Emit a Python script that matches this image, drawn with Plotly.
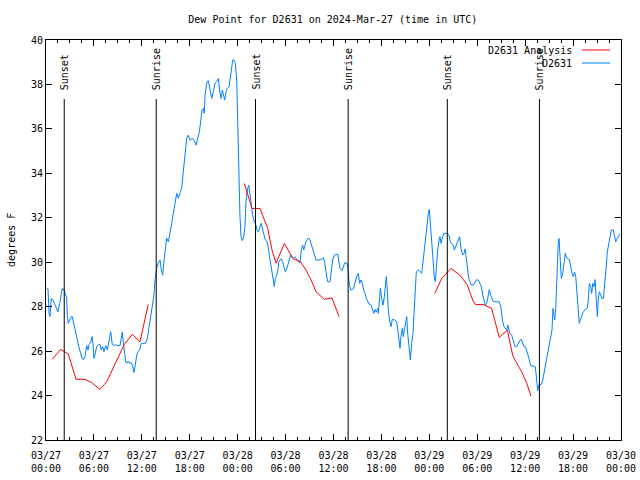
import pandas as pd
import plotly.graph_objects as go

BASE = pd.Timestamp("2024-03-27 00:00")

# Observed dew point (D2631): hours since 2024-03-27 00:00 UTC, degrees F
obs_hours = [0.1, 0.25, 0.38, 0.5, 0.66, 0.88, 1.13, 1.34, 1.5, 1.72, 1.97, 2.04, 2.25, 2.42, 2.59, 2.67, 2.79, 2.97,
             3.17, 3.29, 3.42, 3.59, 3.79, 4.01, 4.22, 4.42, 4.55, 4.76, 4.92, 5.1, 5.26, 5.38, 5.6, 5.76, 5.89,
             6.01, 6.17, 6.35, 6.55, 6.76, 6.92, 7.1, 7.26, 7.48, 7.68, 7.89, 8.1, 8.3, 8.52, 8.73, 8.93, 9.27,
             9.43, 9.55, 9.68, 9.86, 9.98, 10.1, 10.27, 10.43, 10.61, 10.81, 11.02, 11.18, 11.36, 11.52, 11.73,
             11.93, 12.18, 12.48, 12.68, 12.9, 13.11, 13.31, 13.52, 13.65, 13.85, 14.05, 14.28, 14.44, 14.61,
             14.74, 14.9, 15.11, 15.32, 15.53, 15.74, 15.94, 16.15, 16.37, 16.57, 16.78, 16.99, 17.19, 17.41,
             17.62, 17.82, 18.03, 18.37, 18.57, 18.78, 19.0, 19.2, 19.37, 19.53, 19.7, 19.82, 19.91, 20.12,
             20.32, 20.54, 20.75, 20.95, 21.16, 21.38, 21.58, 21.79, 21.91, 22.08, 22.2, 22.38, 22.54, 22.7,
             22.92, 23.04, 23.2, 23.38, 23.54, 23.71, 23.88, 24.0, 24.13, 24.29, 24.42, 24.58, 24.76, 24.92,
             25.04, 25.21, 25.38, 25.58, 25.71, 25.88, 26.08, 26.3, 26.42, 26.59, 26.8, 26.96, 27.14, 27.3,
             27.46, 27.64, 27.8, 27.96, 28.14, 28.3, 28.46, 28.59, 28.71, 28.89, 29.05, 29.14, 29.3, 29.46,
             29.64, 29.8, 29.97, 30.14, 30.3, 30.47, 30.64, 30.8, 30.97, 31.14, 31.3, 31.47, 31.64, 31.81,
             31.97, 32.14, 32.27, 32.39, 32.56, 32.77, 32.97, 33.18, 33.4, 33.6, 33.81, 34.15, 34.44, 34.72,
             34.9, 35.06, 35.27, 35.56, 35.73, 35.9, 36.1, 36.53, 36.65, 36.82, 37.07, 37.23, 37.41, 37.66,
             37.82, 37.98, 38.19, 38.48, 38.69, 38.91, 39.11, 39.28, 39.45, 39.61, 39.78, 39.95, 40.11, 40.28,
             40.45, 40.7, 40.86, 41.04, 41.2, 41.36, 41.54, 41.62, 41.79, 41.86, 42.04, 42.2, 42.37, 42.49,
             42.61, 42.74, 42.86, 43.04, 43.2, 43.36, 43.7, 43.92, 44.04, 44.2, 44.33, 44.45, 44.62, 44.74,
             44.87, 45.04, 45.17, 45.29, 45.45, 45.62, 45.79, 45.96, 46.08, 46.21, 46.37, 46.62, 46.83, 47.05,
             47.21, 47.37, 47.55, 47.71, 47.87, 48.0, 48.12, 48.3, 48.46, 48.62, 48.75, 48.87, 49.05, 49.22,
             49.34, 49.47, 49.63, 49.8, 50.18, 50.47, 50.63, 50.8, 51.0, 51.13, 51.3, 51.47, 51.63, 51.8,
             51.97, 52.18, 52.34, 52.47, 52.59, 52.76, 52.93, 53.1, 53.26, 53.51, 53.72, 53.93, 54.18, 54.35,
             54.51, 54.69, 54.85, 55.01, 55.19, 55.35, 55.51, 55.69, 55.86, 56.02, 56.36, 56.76, 56.94, 57.06,
             57.19, 57.35, 57.52, 57.7, 57.82, 57.99, 58.1, 58.31, 58.51, 58.73, 58.94, 59.11, 59.36, 59.52,
             59.69, 59.86, 60.02, 60.19, 60.36, 60.52, 60.7, 61.02, 61.27, 61.36, 61.44, 61.57, 61.69, 61.86,
             62.02, 62.2, 62.36, 62.52, 62.7, 62.86, 63.02, 63.2, 63.36, 63.48, 63.61, 63.7, 63.83, 63.95,
             64.12, 64.24, 64.37, 64.53, 64.7, 64.86, 65.03, 65.2, 65.37, 65.53, 65.7, 65.87, 66.03, 66.2,
             66.33, 66.45, 66.62, 66.78, 66.96, 67.12, 67.28, 67.53, 67.78, 67.91, 68.03, 68.21, 68.33, 68.46,
             68.62, 68.75, 68.87, 69.04, 69.16, 69.29, 69.46, 69.59, 69.79, 69.96, 70.13, 70.29, 70.46, 70.62,
             70.79, 71.04, 71.22, 71.34, 71.54, 71.72, 71.88]
obs_dewpt = [28.85, 28.8, 27.7, 27.55, 28.37, 28.3, 28.07, 27.85, 27.77, 28.15, 28.6, 28.83, 28.75, 28.6, 28.4, 27.6, 27.25, 27.4,
             27.55, 27.55, 27.32, 26.95, 26.65, 26.35, 26.05, 25.82, 25.64, 25.64, 25.82, 26.25, 26.05, 26.3, 26.4, 26.65, 26.35,
             25.67, 25.9, 26.2, 26.3, 26.3, 26.05, 26.2, 25.97, 26.25, 26.05, 26.45, 26.87, 26.3, 26.25, 26.3, 26.25, 26.25,
             26.55, 26.85, 26.4, 25.82, 25.52, 25.45, 25.55, 25.45, 25.5, 25.37, 25.04, 25.37, 25.82, 25.97, 26.05,
             26.35, 26.35, 26.35, 26.55, 27.03, 27.47, 27.92, 28.52, 29.2, 29.72, 29.95, 30.1, 29.65, 29.42,
             29.95, 30.47, 31.08, 30.92, 31.45, 31.75, 32.2, 32.72, 33.1, 32.88, 33.1, 33.33, 34.07, 35.05,
             35.57, 35.72, 35.5, 35.57, 35.47, 35.27, 35.57, 35.87, 36.32, 36.85, 36.92, 36.7, 37.52, 38.05,
             38.17, 37.82, 37.37, 37.67, 38.05, 38.12, 38.27, 37.6, 37.37, 37.75, 37.6, 37.3, 37.67, 37.82,
             37.9, 38.27, 38.8, 39.1, 39.1, 38.95, 38.2, 35.95, 34.0, 32.05, 31.15, 30.97, 31.15, 31.6,
             32.72, 33.25, 33.47, 32.87, 32.5, 32.12, 31.82, 31.67, 31.45, 31.37, 31.6, 31.75, 31.45, 31.22,
             31.0, 30.95, 30.77, 30.32, 29.95, 29.65, 29.2, 28.9, 29.27, 29.42, 29.65, 30.02, 30.1, 30.15,
             30.0, 29.8, 29.57, 29.7, 29.9, 30.17, 30.32, 30.25, 30.17, 30.25, 30.17, 30.1, 30.07, 29.97,
             30.55, 30.77, 30.55, 30.77, 30.92, 31.07, 31.07, 30.85, 30.55, 30.32, 30.1, 30.1, 30.12, 30.2,
             30.0, 29.57, 29.12, 29.12, 29.57, 30.1, 30.32, 30.37, 30.1, 29.72, 29.62, 29.8, 29.97, 29.97,
             29.72, 28.97, 28.75, 28.8, 29.12, 29.35, 29.5, 29.05, 29.2, 29.05, 28.75, 28.6, 28.37, 28.22,
             28.12, 28.07, 27.92, 27.7, 27.87, 27.75, 27.92, 27.7, 28.45, 28.82, 28.37, 28.07, 28.45, 29.05,
             29.35, 28.75, 27.85, 27.32, 27.1, 27.43, 27.4, 27.32, 26.95, 26.5, 26.12, 26.65, 27.03, 26.65,
             26.95, 27.25, 27.55, 26.8, 26.2, 25.6, 26.35, 26.8, 27.7, 28.9, 29.57, 29.65, 29.6, 29.5,
             30.02, 30.85, 31.3, 31.9, 32.2, 32.38, 31.75, 30.7, 29.8, 29.35, 29.12, 29.8, 30.55, 31.0,
             31.15, 30.85, 31.07, 31.3, 31.3, 31.22, 30.92, 30.85, 30.77, 30.55, 30.7, 30.85, 31.02, 31.15,
             30.6, 30.32, 30.4, 30.6, 30.3, 29.65, 29.27, 29.12, 28.97, 28.97, 29.12, 29.22, 29.17, 29.05,
             28.9, 28.52, 28.22, 28.07, 28.15, 28.45, 28.77, 28.5, 28.3, 28.22, 28.22, 28.22, 28.0, 27.55,
             27.32, 27.1, 27.02, 26.95, 27.17, 26.95, 26.8, 26.72, 26.42, 26.2, 26.2, 26.35, 26.5, 26.52,
             26.35, 26.2, 26.2, 26.05, 25.82, 25.6, 25.33, 25.33, 25.3, 25.0, 24.47, 24.22, 24.47, 24.5,
             24.5, 24.7, 25.0, 25.3, 25.67, 25.97, 26.27, 26.5, 26.95, 27.92, 27.7, 27.4, 27.92, 29.35,
             30.7, 31.07, 30.4, 29.27, 29.5, 29.95, 30.4, 30.2, 30.17, 30.1, 29.72, 29.5, 29.35, 29.55,
             29.35, 28.67, 28.07, 27.25, 27.47, 27.62, 27.77, 27.87, 27.95, 28.3, 29.05, 28.9, 28.6, 29.05,
             28.9, 29.22, 28.37, 27.55, 28.37, 28.67, 28.52, 28.37, 28.37, 28.9, 29.72, 30.47, 30.85, 31.15,
             31.45, 31.45, 31.15, 30.92, 31.07, 31.22, 31.27]

# Analysis dew point (D2631 Analysis); None separates the three runs
ana_hours = [0.79, 1.84, 2.79, 3.76, 4.88, 5.72, 6.76, 7.6, 8.1, 8.8, 9.8, 10.8, 11.77, 12.8, None,
             24.83, 25.8, 26.8, 27.3, 27.76, 28.3, 28.8, 29.85, 30.9, 31.9, 32.56, 33.2, 33.8, 34.85, 35.8, 36.7, None,
             48.7, 49.55, 50.7, 51.84, 52.76, 53.43, 53.76, 54.76, 55.8, 56.76, 57.77, 58.43, 58.85, 59.56, 60.2, 60.73]
ana_dewpt = [25.63, 26.08, 25.87, 24.73, 24.73, 24.58, 24.28, 24.62, 25.0, 25.55, 26.3, 26.75, 26.42, 28.1, None,
             33.55, 32.42, 32.42, 31.9, 31.52, 30.55, 29.95, 30.85, 30.17, 30.0, 29.65, 29.2, 28.67, 28.33, 28.4, 27.55, None,
             28.6, 29.27, 29.72, 29.42, 28.97, 28.3, 28.1, 28.1, 27.92, 26.62, 26.95, 25.82, 25.52, 25.07, 24.55, 23.98]

# Sun events (UTC)
sun_times = ["2024-03-27 02:17", "2024-03-27 13:48", "2024-03-28 02:14",
             "2024-03-28 13:50", "2024-03-29 02:15", "2024-03-29 13:47"]
sun_labels = ["Sunset", "Sunrise", "Sunset", "Sunrise", "Sunset", "Sunrise"]

# X tick labels
tick_times = pd.date_range("2024-03-27 00:00", "2024-03-30 00:00", freq="6h")
tick_text = [t.strftime("%m/%d") + "<br>" + t.strftime("%H:%M") for t in tick_times]
y_ticks = [22, 24, 26, 28, 30, 32, 34, 36, 38, 40]


def to_time(hours):
    return [None if h is None else BASE + pd.Timedelta(hours=h) for h in hours]


FONT = "DejaVu Sans Mono"
RED = "#ff0000"
BLUE = "#0080ff"

fig = go.Figure()
fig.add_trace(go.Scatter(x=to_time(obs_hours), y=obs_dewpt, mode="lines",
                         line=dict(color=BLUE, width=1), name="D2631", showlegend=False))
fig.add_trace(go.Scatter(x=to_time(ana_hours), y=ana_dewpt, mode="lines",
                         line=dict(color=RED, width=1), name="D2631 Analysis",
                         connectgaps=False, showlegend=False))

# Sun event lines and labels
for t, lab in zip(sun_times, sun_labels):
    fig.add_shape(type="line", xref="x", yref="paper", x0=t, x1=t, y0=0, y1=0.8525,
                  line=dict(color="black", width=1))
    fig.add_annotation(x=t, y=0.87, xref="x", yref="paper", text=lab, textangle=-90,
                       showarrow=False, xanchor="center", yanchor="bottom",
                       font=dict(family=FONT, size=10, color="black"))

# Legend (gnuplot style: text then sample line on the right)
legend_rows = [("D2631 Analysis", RED, 0.975), ("D2631", BLUE, 0.9425)]
for text, col, yy in legend_rows:
    fig.add_annotation(x=0.918, y=yy, xref="paper", yref="paper", text=text, showarrow=False,
                       xanchor="right", yanchor="middle", font=dict(family=FONT, size=10, color="black"))
    fig.add_shape(type="line", xref="paper", yref="paper", x0=0.932, x1=0.981, y0=yy, y1=yy,
                  line=dict(color=col, width=1))

# Y-axis title
fig.add_annotation(x=-0.061, y=0.5, xref="paper", yref="paper", text="degrees F", textangle=-90,
                   showarrow=False, xanchor="center", yanchor="middle",
                   font=dict(family=FONT, size=10, color="black"))

fig.update_layout(
    width=640, height=480,
    margin=dict(l=46, r=19, t=40, b=40, autoexpand=False),
    paper_bgcolor="white", plot_bgcolor="white",
    font=dict(family=FONT, size=10, color="black"),
    title=dict(text="Dew Point for D2631 on 2024-Mar-27 (time in UTC)", x=0.52, xanchor="center",
               y=1 - 19 / 480, yanchor="middle", yref="container",
               font=dict(family=FONT, size=10, color="black")),
    showlegend=False,
)
fig.update_xaxes(range=[tick_times[0], tick_times[-1]], tickvals=list(tick_times), ticktext=tick_text,
                 automargin=False, ticklabelstandoff=6,
                 showgrid=False, zeroline=False, showline=True, linecolor="black", linewidth=1,
                 mirror="ticks", ticks="inside", ticklen=6, tickcolor="black",
                 minor=dict(ticks="inside", ticklen=3, dtick=5400000, tickcolor="black", showgrid=False),
                 tickfont=dict(family=FONT, size=10, color="black"))
fig.update_yaxes(range=[22, 40], tickvals=y_ticks, showgrid=False, zeroline=False, showline=True,
                 automargin=False,
                 linecolor="black", linewidth=1, mirror="ticks", ticks="inside", ticklen=6,
                 tickcolor="black", tickfont=dict(family=FONT, size=10, color="black"))

fig.write_html("out.html", config={"displayModeBar": False},
               post_script="document.body.style.margin='0px';")
